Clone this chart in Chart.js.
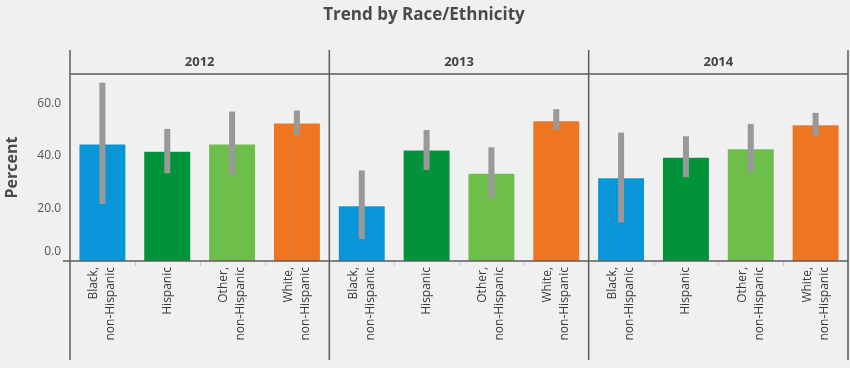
<!DOCTYPE html>
<html>
<head>
<meta charset="utf-8">
<script src="https://cdn.jsdelivr.net/npm/chart.js@4/dist/chart.umd.min.js"></script>
<style>
  html, body { margin: 0; padding: 0; background: #f0f0f0; }
  #wrap { width: 850px; height: 368px; }
</style>
</head>
<body>
<div id="wrap"><canvas id="c" width="850" height="368"></canvas></div>
<script>
// Panels (years) and the four groups shown inside each panel
const years = ['2012', '2013', '2014'];
const groups = [
  ['Black,', 'non-Hispanic'],
  ['Hispanic'],
  ['Other,', 'non-Hispanic'],
  ['White,', 'non-Hispanic']
];
const groupColors = ['#0996d8', '#00933a', '#6dbe4b', '#ee7623'];

// Percent values, one array per year
const pct2012 = [44.7, 42.0, 44.7, 52.7];
const pct2013 = [21.2, 42.5, 33.6, 53.6];
const pct2014 = [31.9, 39.7, 42.9, 52.1];

// Confidence interval ends (low / high)
const lo2012 = [21.7, 33.4, 32.8, 48.0];
const hi2012 = [67.9, 50.3, 56.9, 57.3];
const lo2013 = [8.4, 34.7, 24.1, 49.9];
const hi2013 = [34.5, 49.9, 43.3, 57.8];
const lo2014 = [14.7, 31.9, 33.6, 47.6];
const hi2014 = [48.9, 47.5, 52.2, 56.4];

// Y axis ticks
const yTicks = [0, 20, 40, 60];
const yMax = 71.2;

const FONT = "'Open Sans', 'DejaVu Sans', sans-serif";

// Flatten panels into one category axis
const labels = [], values = [], ranges = [], colors = [];
const pctByYear = [pct2012, pct2013, pct2014];
const loByYear = [lo2012, lo2013, lo2014];
const hiByYear = [hi2012, hi2013, hi2014];
years.forEach((yr, p) => {
  groups.forEach((g, i) => {
    labels.push(yr + '|' + g.join(' '));
    values.push(pctByYear[p][i]);
    ranges.push([loByYear[p][i], hiByYear[p][i]]);
    colors.push(groupColors[i]);
  });
});

// Panel frame, year headers and rotated group labels
const facetPlugin = {
  id: 'facets',
  beforeDraw(chart) {
    const ctx = chart.ctx;
    ctx.save();
    ctx.fillStyle = '#f0f0f0';
    ctx.fillRect(0, 0, chart.width, chart.height);
    ctx.restore();
  },
  afterDraw(chart) {
    const ctx = chart.ctx;
    const xs = chart.scales.x, ys = chart.scales.y;
    const area = chart.chartArea;
    const base = ys.getPixelForValue(0);
    const n = groups.length;
    const top = area.top - 24, bottom = area.bottom + 99;

    ctx.save();
    ctx.strokeStyle = '#5c5c5c';
    ctx.lineWidth = 1.5;

    // header strip bottom line
    ctx.beginPath();
    ctx.moveTo(area.left, area.top);
    ctx.lineTo(area.right, area.top);
    ctx.stroke();

    // baseline
    ctx.beginPath();
    ctx.moveTo(area.left - 7, base);
    ctx.lineTo(area.right, base);
    ctx.stroke();

    // panel borders
    const edges = [area.left];
    for (let p = 1; p < years.length; p++) {
      edges.push((xs.getPixelForValue(p * n - 1) + xs.getPixelForValue(p * n)) / 2);
    }
    edges.push(area.right);
    edges.forEach(x => {
      ctx.beginPath();
      ctx.moveTo(x, top);
      ctx.lineTo(x, bottom);
      ctx.stroke();
    });

    // small separators between groups
    ctx.strokeStyle = '#c8c8c8';
    ctx.lineWidth = 1;
    years.forEach((yr, p) => {
      for (let i = 1; i < n; i++) {
        const x = Math.round((xs.getPixelForValue(p * n + i - 1) + xs.getPixelForValue(p * n + i)) / 2) + 0.5;
        ctx.beginPath();
        ctx.moveTo(x, base + 1);
        ctx.lineTo(x, base + 5);
        ctx.stroke();
      }
    });

    // 0.0 label sits a little above the baseline in the original
    ctx.fillStyle = '#555';
    ctx.font = '12px ' + FONT;
    ctx.textAlign = 'right';
    ctx.textBaseline = 'middle';
    ctx.fillText(Number(yTicks[0]).toFixed(1), area.left - 9, base - 9);

    // year headers
    ctx.fillStyle = '#444';
    ctx.font = 'bold 13px ' + FONT;
    ctx.textAlign = 'center';
    years.forEach((yr, p) => {
      ctx.fillText(yr, (edges[p] + edges[p + 1]) / 2, (top + area.top) / 2);
    });

    // rotated group labels
    ctx.font = '12px ' + FONT;
    ctx.fillStyle = '#3a3a3a';
    ctx.textAlign = 'right';
    const lh = 17;
    labels.forEach((l, k) => {
      const lines = groups[k % n];
      const x = xs.getPixelForValue(k);
      ctx.save();
      ctx.translate(x, base + 6);
      ctx.rotate(-Math.PI / 2);
      lines.forEach((t, j) => {
        const off = (j - (lines.length - 1) / 2) * lh;
        ctx.fillText(t, 0, off);
      });
      ctx.restore();
    });
    ctx.restore();
  }
};

new Chart(document.getElementById('c'), {
  type: 'bar',
  data: {
    labels: labels,
    datasets: [
      {
        label: 'CI',
        data: ranges,
        backgroundColor: '#999999',
        borderWidth: 0,
        grouped: false,
        categoryPercentage: 1,
        barPercentage: 0.093,
        order: 0
      },
      {
        label: 'Percent',
        data: values,
        backgroundColor: colors,
        borderColor: 'rgba(255,255,255,0.55)',
        borderWidth: 1,
        grouped: false,
        categoryPercentage: 1,
        barPercentage: 0.74,
        order: 1
      }
    ]
  },
  options: {
    responsive: false,
    animation: false,
    layout: { padding: { left: 0, right: 2, top: 0, bottom: 0 } },
    plugins: {
      legend: { display: false },
      tooltip: { enabled: false },
      title: {
        display: true,
        text: 'Trend by Race/Ethnicity',
        color: '#4a4a4a',
        font: { family: FONT, size: 17, weight: 'bold' },
        padding: { top: 5, bottom: 48.6 }
      }
    },
    scales: {
      x: {
        grid: { display: false, drawTicks: false },
        border: { display: false },
        ticks: { display: false },
        afterFit(scale) { scale.height = 107; }
      },
      y: {
        min: 0,
        max: yMax,
        grid: { display: false, drawTicks: false },
        border: { display: false },
        afterBuildTicks(scale) { scale.ticks = yTicks.map(v => ({ value: v })); },
        afterFit(scale) { scale.width = 70; },
        ticks: {
          padding: 9,
          color: '#555',
          font: { family: FONT, size: 12 },
          callback: v => (v === yTicks[0] ? '' : Number(v).toFixed(1))
        },
        title: {
          display: true,
          text: 'Percent',
          color: '#4a4a4a',
          font: { family: FONT, size: 16, weight: 'bold' },
          padding: { top: 3, bottom: 4 }
        }
      }
    }
  },
  plugins: [facetPlugin]
});
</script>
</body>
</html>
